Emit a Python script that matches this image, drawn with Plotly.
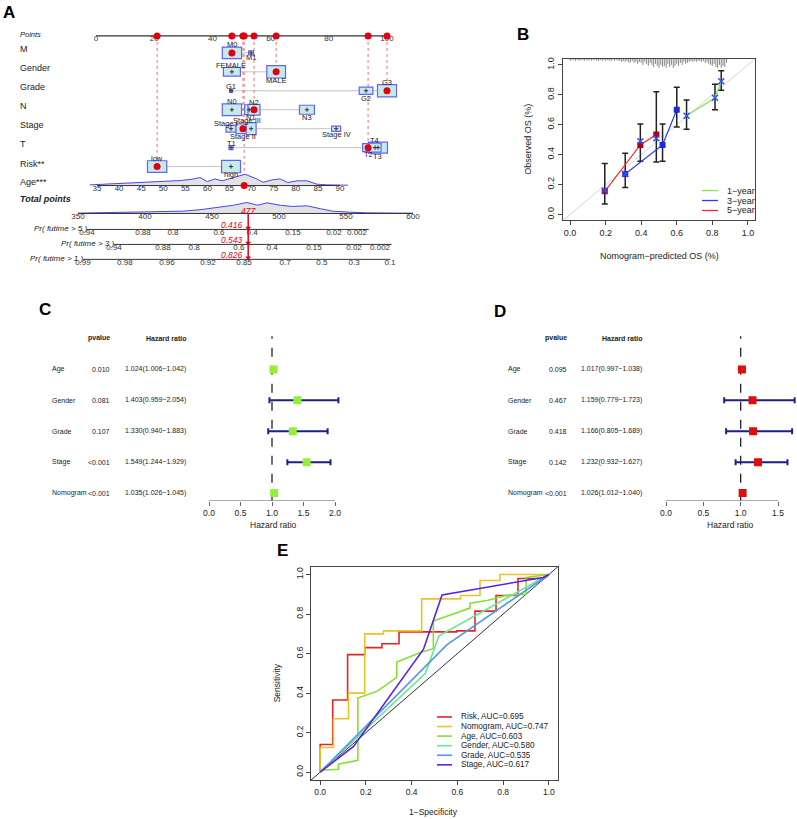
import plotly.graph_objects as go

W, H = 797, 819
FONT = "Liberation Sans, Arial, Helvetica, sans-serif"

# ============================ DATA ============================
# ---- A: nomogram ----
points_ticks = [0, 20, 40, 60, 80, 100]
age_ticks = [35, 40, 45, 50, 55, 60, 65, 70, 75, 80, 85, 90]
total_ticks = [350, 400, 450, 500, 550, 600]

M_levels = ["M0", "M1"]
M_points = [46.7, 53.3]
Gender_levels = ["FEMALE", "MALE"]
Gender_points = [46.7, 61.9]
Grade_levels = ["G1", "G2", "G3"]
Grade_points = [46.4, 92.8, 100.0]
N_levels = ["N0", "N1", "N2", "N3"]
N_points = [46.7, 52.6, 54.3, 72.5]
Stage_levels = ["Stage I", "Stage II", "Stage III", "Stage IV"]
Stage_points = [46.4, 50.5, 53.3, 82.5]
T_levels = ["T1", "T2", "T3", "T4"]
T_points = [46.4, 93.5, 96.9, 95.9]
Risk_levels = ["low", "high"]
Risk_points = [21.0, 46.4]

patient_levels = ["M0", "MALE", "G3", "N2", "Stage II", "T2", "low"]
patient_age = 68.3
patient_total = 477
patient_prob = ["0.416", "0.543", "0.826"]

age_dens_x = [33.4, 37.9, 43.1, 47.0, 50.8, 53.8, 56.5, 58.3, 60.0, 61.7, 63.3, 65.6,
              68.5, 70.8, 72.6, 74.6, 76.4, 78.2, 80.3, 82.5, 84.8, 87.1, 91.8]
age_dens_y = [0.06, 0.15, 0.20, 0.29, 0.35, 0.44, 0.56, 0.71, 0.35, 0.59, 0.42, 0.65,
              1.00, 0.65, 0.29, 0.50, 0.59, 0.27, 0.42, 0.42, 0.12, 0.06, 0.03]
total_dens_x = [350, 366, 391, 411, 428, 441, 453, 466, 476, 484, 491, 501, 510, 521,
                531, 540, 553, 566, 590, 600]
total_dens_y = [0.03, 0.06, 0.09, 0.12, 0.21, 0.34, 0.52, 0.75, 1.00, 0.75, 0.97, 0.75,
                0.64, 0.70, 0.43, 0.21, 0.12, 0.06, 0.03, 0.03]

pr_titles = ["Pr( futime > 5 )", "Pr( futime > 3 )", "Pr( futime > 1 )"]
pr5_labels = ["0.94", "0.88", "0.8", "0.6", "0.4", "0.15", "0.02", "0.002"]
pr5_at = [356.7, 398.5, 420.9, 455.2, 479.9, 510.4, 541.0, 558.2]
pr3_labels = ["0.94", "0.88", "0.8", "0.6", "0.4", "0.15", "0.02", "0.002"]
pr3_at = [376.9, 413.4, 436.6, 470.1, 494.8, 526.1, 556.0, 575.4]
pr1_labels = ["0.99", "0.98", "0.96", "0.92", "0.85", "0.7", "0.5", "0.3", "0.1"]
pr1_at = [353.7, 385.0, 416.4, 447.0, 473.9, 504.5, 532.0, 556.0, 582.8]
pr_line_end = [567, 584, 583]

# ---- B: calibration ----
cal_ticks = [0.0, 0.2, 0.4, 0.6, 0.8, 1.0]
cal1_pred = [0.655, 0.815, 0.85]
cal1_obs = [0.66, 0.78, 0.89]
cal1_lo = [0.57, 0.70, 0.83]
cal1_hi = [0.765, 0.87, 0.96]
cal3_pred = [0.31, 0.52, 0.60]
cal3_obs = [0.27, 0.465, 0.70]
cal3_lo = [0.18, 0.355, 0.585]
cal3_hi = [0.41, 0.605, 0.85]
cal5_pred = [0.195, 0.395, 0.485]
cal5_obs = [0.155, 0.465, 0.535]
cal5_lo = [0.07, 0.355, 0.35]
cal5_hi = [0.34, 0.605, 0.82]
cal_x_pred = [0.195, 0.395, 0.485, 0.31, 0.655, 0.815, 0.85]
cal_x_obs = [0.16, 0.49, 0.51, 0.27, 0.66, 0.78, 0.89]
rug_x = [0.00, 0.01, 0.02, 0.03, 0.04, 0.05, 0.06, 0.07, 0.08, 0.09,
         0.10, 0.11, 0.12, 0.13, 0.14, 0.15, 0.16, 0.17, 0.18, 0.19,
         0.20, 0.21, 0.22, 0.23, 0.24, 0.25, 0.26, 0.27, 0.28, 0.29,
         0.30, 0.31, 0.32, 0.33, 0.34, 0.35, 0.36, 0.37, 0.38, 0.39,
         0.40, 0.41, 0.42, 0.43, 0.44, 0.45, 0.46, 0.47, 0.48, 0.49,
         0.50, 0.51, 0.52, 0.53, 0.54, 0.55, 0.56, 0.57, 0.58, 0.59,
         0.60, 0.61, 0.62, 0.63, 0.64, 0.65, 0.66, 0.67, 0.68, 0.69,
         0.70, 0.71, 0.72, 0.73, 0.74, 0.75, 0.76, 0.77, 0.78, 0.79,
         0.80, 0.81, 0.82, 0.83, 0.84, 0.85, 0.86, 0.87, 0.88]
rug_n = [2, 1, 1, 2, 1, 2, 1, 1, 2, 1,
         2, 1, 2, 1, 1, 2, 2, 1, 2, 1,
         2, 1, 2, 2, 1, 2, 1, 2, 2, 3,
         2, 3, 2, 4, 3, 2, 4, 3, 5, 3,
         4, 6, 3, 5, 7, 4, 6, 8, 5, 7,
         9, 6, 8, 7, 9, 5, 8, 6, 9, 7,
         5, 7, 4, 6, 3, 5, 4, 3, 2, 3,
         2, 3, 2, 2, 3, 2, 4, 3, 5, 6,
         7, 5, 8, 9, 6, 9, 7, 8, 4]
cal_legend = ["1\u2212year", "3\u2212year", "5\u2212year"]

# ---- C / D: forest plots ----
forest_vars = ["Age", "Gender", "Grade", "Stage", "Nomogram"]
uni_p = ["0.010", "0.081", "0.107", "<0.001", "<0.001"]
uni_hr = [1.024, 1.403, 1.330, 1.549, 1.035]
uni_lo = [1.006, 0.959, 0.940, 1.244, 1.026]
uni_hi = [1.042, 2.054, 1.883, 1.929, 1.045]
uni_ticks = [0.0, 0.5, 1.0, 1.5, 2.0]
multi_p = ["0.095", "0.467", "0.418", "0.142", "<0.001"]
multi_hr = [1.017, 1.159, 1.166, 1.232, 1.026]
multi_lo = [0.997, 0.779, 0.805, 0.932, 1.012]
multi_hi = [1.038, 1.723, 1.689, 1.627, 1.040]
multi_ticks = [0.0, 0.5, 1.0, 1.5]

# ---- E: ROC ----
roc_ticks = [0.0, 0.2, 0.4, 0.6, 0.8, 1.0]
roc_names = ["Risk", "Nomogram", "Age", "Gender", "Grade", "Stage"]
roc_auc = [0.695, 0.747, 0.603, 0.580, 0.535, 0.617]
risk_fpr = [0, 0, 0.055, 0.055, 0.12, 0.12, 0.195, 0.195, 0.27, 0.27, 0.345, 0.345,
            0.597, 0.597, 0.677, 0.677, 0.769, 0.769, 0.865, 0.865, 0.98, 1.0]
risk_tpr = [0, 0.14, 0.14, 0.365, 0.365, 0.595, 0.595, 0.63, 0.63, 0.65, 0.65, 0.71,
            0.71, 0.715, 0.715, 0.815, 0.815, 0.894, 0.894, 0.98, 0.98, 1.0]
nomo_fpr = [0, 0, 0.058, 0.058, 0.124, 0.124, 0.195, 0.195, 0.277, 0.277, 0.444, 0.444,
            0.614, 0.614, 0.699, 0.699, 0.786, 0.786, 1.0]
nomo_tpr = [0, 0.125, 0.125, 0.27, 0.27, 0.40, 0.40, 0.70, 0.70, 0.715, 0.715, 0.877,
            0.877, 0.894, 0.894, 0.97, 0.97, 1.0, 1.0]
age_fpr = [0, 0, 0.08, 0.08, 0.165, 0.165, 0.25, 0.335, 0.335, 0.445, 0.495, 0.495,
           0.655, 0.655, 0.735, 0.815, 0.90, 0.90, 1.0]
age_tpr = [0, 0.01, 0.015, 0.04, 0.06, 0.375, 0.41, 0.48, 0.557, 0.608, 0.625, 0.765,
           0.83, 0.855, 0.87, 0.895, 0.90, 0.985, 1.0]
gender_fpr = [0, 0.46, 0.52, 1.0]
gender_tpr = [0, 0.50, 0.69, 1.0]
grade_fpr = [0, 0.555, 1.0]
grade_tpr = [0, 0.645, 1.0]
stage_fpr = [0, 0.146, 0.452, 0.533, 0.975, 1.0]
stage_tpr = [0, 0.13, 0.622, 0.897, 0.985, 1.0]

# ============================ STYLE / LAYOUT CONSTANTS ============================
RED = "#e3000f"
BOX_FILL = "#c6eaea"
BOX_LINE = "#6464f2"
NAVY = "#1e1e8c"
GREEN_SQ = "#93f03a"
RED_SQ = "#e00d0d"
ROC_COLORS = ["#e0262a", "#ecc22a", "#85e033", "#6ee68e", "#4d9be6", "#5a22e6"]


def PX(x):
    return x / W


def PY(y):
    return 1 - y / H


def lin_range(v0, v1, p0, p1, d0, d1):
    s = (v1 - v0) / (p1 - p0)
    return [v0 + (d0 - p0) * s, v0 + (d1 - p0) * s]


fig = go.Figure()
shapes = []
ann = []


def text(x, y, s, size, xref="paper", yref="paper", xanchor="center", yanchor="middle",
         color="#222", angle=0, xshift=0, yshift=0):
    if xref == "paper":
        x = PX(x)
    if yref == "paper":
        y = PY(y)
    ann.append(dict(x=x, y=y, xref=xref, yref=yref, text=s, showarrow=False,
                    xanchor=xanchor, yanchor=yanchor, textangle=angle,
                    xshift=xshift, yshift=yshift,
                    font=dict(size=size, color=color, family=FONT)))


def seg(xref, yref, x0, y0, x1, y1, color, width=1, dash=None, layer="above"):
    ln = dict(color=color, width=width)
    if dash:
        ln["dash"] = dash
    shapes.append(dict(type="line", xref=xref, yref=yref, x0=x0, y0=y0, x1=x1, y1=y1,
                       line=ln, layer=layer))


# ============================ PANEL A ============================
A_RIGHT = 430
PTS_PX = (96.0, 387.0)
AGE_PX = (97.0, 340.0)
TOT_PX = (78.0, 413.0)
PPX = 100.0 / (PTS_PX[1] - PTS_PX[0])
ROW = dict(Points=34, M=51, Gender=70, Grade=89, N=108, Stage=127, T=146, Risk=165,
           Age=184, Total=212, Pr5=228, Pr3=243, Pr1=258)
AGE_DENS_H = 11.3
TOT_DENS_H = 11.0

BOX = {"M0": (19.3, 11.7), "M1": (5, 4),
       "FEMALE": (17, 8.7), "MALE": (18.7, 12.4),
       "G1": (3, 3), "G2": (13.7, 7.3), "G3": (19, 12.3),
       "N0": (19.3, 11.7), "N1": (9, 10), "N2": (12, 10.7), "N3": (15, 9),
       "Stage I": (10, 6.7), "Stage II": (14, 9.7), "Stage III": (10, 12), "Stage IV": (9, 5.3),
       "T1": (4, 4), "T2": (11, 8), "T3": (19, 11), "T4": (12, 9),
       "low": (19.3, 11.7), "high": (19, 12.3)}
LAB = {"M0": (0, -8), "M1": (0, 5),
       "FEMALE": (-1, -6.7), "MALE": (0, 9),
       "G1": (0, -3.8), "G2": (0, 7.5), "G3": (0, -8),
       "N0": (0, -8), "N1": (2, 7.5), "N2": (0, -7.5), "N3": (0, 8),
       "Stage I": (-5, -5.5), "Stage II": (0, 7.5), "Stage III": (-4, -8.5), "Stage IV": (0, 5.5),
       "T1": (0, -4.5), "T2": (0, 6.5), "T3": (0, 9), "T4": (-1, -7),
       "low": (0, -8.3), "high": (0, 7.7)}

cat_rows = [("M", M_levels, M_points), ("Gender", Gender_levels, Gender_points),
            ("Grade", Grade_levels, Grade_points), ("N", N_levels, N_points),
            ("Stage", Stage_levels, Stage_points), ("T", T_levels, T_points),
            ("Risk", Risk_levels, Risk_points)]

# row labels
row_labels = [("Points", "<i>Points</i>", 33, 7.5), ("M", "M", 47, 9), ("Gender", "Gender", 66, 9),
              ("Grade", "Grade", 85, 9), ("N", "N", 104, 9), ("Stage", "Stage", 123, 9),
              ("T", "T", 142, 9), ("Risk", "Risk**", 162, 9), ("Age", "Age***", 180, 9),
              ("Total", "<b><i>Total points</i></b>", 197, 9)]
for _, s, yy, fs in row_labels:
    text(18, yy, s, fs, xanchor="left")

# points axis
fig.add_trace(go.Scatter(x=[points_ticks[0], points_ticks[-1]], y=[ROW["Points"]] * 2,
                         xaxis="x", yaxis="y", mode="lines",
                         line=dict(color="#333", width=1.2), hoverinfo="skip"))
fig.add_trace(go.Scatter(x=points_ticks, y=[ROW["Points"] + 3.3] * len(points_ticks),
                         xaxis="x", yaxis="y", mode="text", text=[str(v) for v in points_ticks],
                         textfont=dict(size=8, color="#333", family=FONT), hoverinfo="skip"))

# connecting lines, guides, boxes
for name, levs, pts in cat_rows:
    seg("x", "y", min(pts), ROW[name], max(pts), ROW[name], "#c4c4c4", 1, layer="below")
sel_x, sel_y = [], []
for name, levs, pts in cat_rows:
    for lv, p in zip(levs, pts):
        if lv in patient_levels:
            seg("x", "y", p, ROW["Points"], p, ROW[name], "#f07070", 1, dash="dot", layer="below")
            sel_x.append(p)
            sel_y.append(ROW[name])
seg("x2", "y", patient_age, ROW["Points"], patient_age, ROW["Age"], "#f07070", 1,
    dash="dot", layer="below")
for name, levs, pts in cat_rows:
    for lv, p in zip(levs, pts):
        w, h = BOX[lv]
        shapes.append(dict(type="rect", xref="x", yref="y", x0=p - w / 2 * PPX,
                           x1=p + w / 2 * PPX, y0=ROW[name] - h / 2, y1=ROW[name] + h / 2,
                           fillcolor=BOX_FILL, line=dict(color=BOX_LINE, width=1.2),
                           layer="below"))
        dx, dy = LAB[lv]
        text(p + dx * PPX, ROW[name] + dy, lv, 7.5, xref="x", yref="y", color="#222")

cx, cy = [], []
for name, levs, pts in cat_rows:
    for p in pts:
        cx.append(p)
        cy.append(ROW[name])
fig.add_trace(go.Scatter(x=cx, y=cy, xaxis="x", yaxis="y", mode="markers",
                         marker=dict(symbol="cross-thin-open", size=3, color="#333",
                                     line=dict(width=1, color="#333")), hoverinfo="skip"))

# age axis + density
n = len(age_dens_x)
fig.add_trace(go.Scatter(x=age_dens_x + age_dens_x[::-1],
                         y=[ROW["Age"] - d * AGE_DENS_H for d in age_dens_y] + [ROW["Age"]] * n,
                         xaxis="x2", yaxis="y", mode="lines", fill="toself",
                         fillcolor="#e2e2e2", line=dict(width=0), hoverinfo="skip"))
fig.add_trace(go.Scatter(x=age_dens_x, y=[ROW["Age"] - d * AGE_DENS_H for d in age_dens_y],
                         xaxis="x2", yaxis="y", mode="lines", line=dict(color="#4646f0", width=1),
                         hoverinfo="skip"))
fig.add_trace(go.Scatter(x=[age_ticks[0], age_ticks[-1]], y=[ROW["Age"]] * 2, xaxis="x2",
                         yaxis="y", mode="lines", line=dict(color="#333", width=1),
                         hoverinfo="skip"))
fig.add_trace(go.Scatter(x=age_ticks, y=[ROW["Age"] + 3.3] * len(age_ticks), xaxis="x2",
                         yaxis="y", mode="text", text=[str(v) for v in age_ticks],
                         textfont=dict(size=8, color="#333", family=FONT), hoverinfo="skip"))

# total points axis + density
n = len(total_dens_x)
fig.add_trace(go.Scatter(x=total_dens_x + total_dens_x[::-1],
                         y=[ROW["Total"] - d * TOT_DENS_H for d in total_dens_y] + [ROW["Total"]] * n,
                         xaxis="x3", yaxis="y", mode="lines", fill="toself",
                         fillcolor="#e2e2e2", line=dict(width=0), hoverinfo="skip"))
fig.add_trace(go.Scatter(x=total_dens_x, y=[ROW["Total"] - d * TOT_DENS_H for d in total_dens_y],
                         xaxis="x3", yaxis="y", mode="lines", line=dict(color="#4646f0", width=1),
                         hoverinfo="skip"))
fig.add_trace(go.Scatter(x=[total_ticks[0], total_ticks[-1]], y=[ROW["Total"]] * 2, xaxis="x3",
                         yaxis="y", mode="lines", line=dict(color="#333", width=1),
                         hoverinfo="skip"))
fig.add_trace(go.Scatter(x=total_ticks, y=[ROW["Total"] + 4] * len(total_ticks), xaxis="x3",
                         yaxis="y", mode="text", text=[str(v) for v in total_ticks],
                         textfont=dict(size=8, color="#333", family=FONT), hoverinfo="skip"))

# probability axes
pr_rows = [("Pr5", pr5_labels, pr5_at), ("Pr3", pr3_labels, pr3_at), ("Pr1", pr1_labels, pr1_at)]
for i, (rk, labs, at) in enumerate(pr_rows):
    fig.add_trace(go.Scatter(x=[at[0], pr_line_end[i]], y=[ROW[rk]] * 2, xaxis="x3", yaxis="y",
                             mode="lines", line=dict(color="#333", width=1), hoverinfo="skip"))
    fig.add_trace(go.Scatter(x=at, y=[ROW[rk] + 3.5] * len(at), xaxis="x3", yaxis="y",
                             mode="text", text=labs,
                             textfont=dict(size=8, color="#333", family=FONT), hoverinfo="skip"))
    text(at[0], ROW[rk] - 1, "<i>" + pr_titles[i] + "</i>", 8, xref="x3", yref="y",
         xanchor="right", xshift=2)
    text(patient_total, ROW[rk] - 4, "<i>" + patient_prob[i] + "</i>", 8.5, xref="x3", yref="y",
         xanchor="right", xshift=-3, color=RED)

# red patient line
fig.add_trace(go.Scatter(x=[patient_total, patient_total], y=[ROW["Total"], ROW["Pr1"] - 1.5],
                         xaxis="x3", yaxis="y", mode="lines", line=dict(color=RED, width=1.5),
                         hoverinfo="skip"))
fig.add_trace(go.Scatter(x=[patient_total] * 3, y=[ROW["Pr5"] - 1.5, ROW["Pr3"] - 1.5, ROW["Pr1"] - 1.5],
                         xaxis="x3", yaxis="y", mode="markers",
                         marker=dict(symbol="triangle-down", size=5, color=RED), hoverinfo="skip"))
text(patient_total, ROW["Total"] - 2.5, "<i>%d</i>" % patient_total, 8.5, xref="x3", yref="y",
     color=RED)

# red dots
fig.add_trace(go.Scatter(x=sel_x + sel_x, y=sel_y + [ROW["Points"]] * len(sel_x), xaxis="x",
                         yaxis="y", mode="markers", marker=dict(size=7, color=RED),
                         hoverinfo="skip"))
fig.add_trace(go.Scatter(x=[patient_age, patient_age], y=[ROW["Points"], ROW["Age"]], xaxis="x2",
                         yaxis="y", mode="markers", marker=dict(size=7, color=RED),
                         hoverinfo="skip"))

# ============================ PANEL B ============================
fig.add_trace(go.Scatter(x=[-0.04, 1.04], y=[-0.04, 1.04], xaxis="x4", yaxis="y4", mode="lines",
                         line=dict(color="#d4d4d4", width=1), hoverinfo="skip"))
RUG_TOP = 1.04
RUG_SCALE = 1.0 / 149
rx, ry = [], []
for xv, nv in zip(rug_x, rug_n):
    rx += [xv, xv, None]
    ry += [RUG_TOP, RUG_TOP - nv * RUG_SCALE, None]
fig.add_trace(go.Scatter(x=rx, y=ry, xaxis="x4", yaxis="y4", mode="lines",
                         line=dict(color="#6a6a6a", width=0.8), hoverinfo="skip"))
cal_series = [(cal1_pred, cal1_obs, cal1_lo, cal1_hi, "#7fe84a", "#7fe84a"),
              (cal3_pred, cal3_obs, cal3_lo, cal3_hi, "#2a3cf0", "#1a2ae0"),
              (cal5_pred, cal5_obs, cal5_lo, cal5_hi, "#f03030", "#b00010")]
for pr, ob, lo, hi, lc, mc in cal_series:
    fig.add_trace(go.Scatter(x=pr, y=ob, xaxis="x4", yaxis="y4", mode="markers",
                             marker=dict(size=1, color="rgba(0,0,0,0)"),
                             error_y=dict(type="data", symmetric=False,
                                          array=[h - o for h, o in zip(hi, ob)],
                                          arrayminus=[o - l for o, l in zip(ob, lo)],
                                          color="#222", thickness=1.5, width=3),
                             hoverinfo="skip"))
for k, (pr, ob, lo, hi, lc, mc) in enumerate(cal_series):
    fig.add_trace(go.Scatter(x=pr, y=ob, xaxis="x4", yaxis="y4", mode="lines+markers",
                             line=dict(color=lc, width=1.2),
                             marker=dict(size=6 if k else 1, color=mc, symbol="square"),
                             hoverinfo="skip"))
fig.add_trace(go.Scatter(x=cal_x_pred, y=cal_x_obs, xaxis="x4", yaxis="y4", mode="markers",
                         marker=dict(symbol="x-thin-open", size=6, color="#3050ff",
                                     line=dict(width=1.5, color="#3050ff")), hoverinfo="skip"))
# legend B
leg_cols = ["#7fe84a", "#2a3cf0", "#f03030"]
for i, lab in enumerate(cal_legend):
    yy = 189 + 10 * i
    seg("paper", "paper", PX(702), PY(yy), PX(718), PY(yy), leg_cols[i], 1.3)
    text(725, yy, lab, 9, xanchor="left")
text(659, 255, "Nomogram\u2212predicted OS (%)", 9)
text(528, 138, "Observed OS (%)", 9, angle=-90)

# ============================ PANELS C / D ============================
def r_of(ypx):
    return 1 + (492.3 - ypx) / 31.0


def forest(xa, ya, hr, lo, hi, pv, color, name_x, p_x, hr_x, ticks, title_x):
    rows = [5 - i for i in range(len(forest_vars))]
    fig.add_trace(go.Scatter(x=hr, y=rows, xaxis=xa, yaxis=ya, mode="markers",
                             marker=dict(symbol="square", size=8, color=color),
                             error_x=dict(type="data", symmetric=False,
                                          array=[h - v for h, v in zip(hi, hr)],
                                          arrayminus=[v - l for v, l in zip(hr, lo)],
                                          color=NAVY, thickness=2, width=3),
                             hoverinfo="skip"))
    seg(xa, ya, 1, r_of(500), 1, r_of(335), "#222", 1.3, dash="dash", layer="below")
    seg(xa, ya, ticks[0], r_of(500), ticks[-1], r_of(500), "#666", 1)
    text(p_x, 6, "<b>pvalue</b>", 7, yref=ya, xanchor="right")
    text(hr_x, 6, "<b>Hazard ratio</b>", 7, yref=ya, xanchor="right")
    for i, v in enumerate(forest_vars):
        text(name_x, rows[i], v, 7, yref=ya, xanchor="left")
        text(p_x, rows[i], pv[i], 7, yref=ya, xanchor="right")
        text(hr_x, rows[i], "%.3f(%.3f\u2212%.3f)" % (hr[i], lo[i], hi[i]), 7, yref=ya,
             xanchor="right")
    text(title_x, 524, "Hazard ratio", 8.5)


forest("x5", "y5", uni_hr, uni_lo, uni_hi, uni_p, GREEN_SQ, 50, 112, 188, uni_ticks, 273)
forest("x6", "y6", multi_hr, multi_lo, multi_hi, multi_p, RED_SQ, 506, 568.5, 644, multi_ticks, 730)

# ============================ PANEL E ============================
fig.add_trace(go.Scatter(x=[-0.04, 1.04], y=[-0.04, 1.04], xaxis="x7", yaxis="y7", mode="lines",
                         line=dict(color="#333", width=1), hoverinfo="skip"))
roc_data = [(risk_fpr, risk_tpr), (nomo_fpr, nomo_tpr), (age_fpr, age_tpr),
            (gender_fpr, gender_tpr), (grade_fpr, grade_tpr), (stage_fpr, stage_tpr)]
for (fx, ty), col in zip(roc_data, ROC_COLORS):
    fig.add_trace(go.Scatter(x=fx, y=ty, xaxis="x7", yaxis="y7", mode="lines",
                             line=dict(color=col, width=1.6), hoverinfo="skip"))
for i, (nm, auc) in enumerate(zip(roc_names, roc_auc)):
    yy = 716.7 + 9.6 * i
    seg("paper", "paper", PX(437), PY(yy), PX(452), PY(yy), ROC_COLORS[i], 1.6)
    text(459, yy, "%s, AUC=%.3f" % (nm, auc), 8.2, xanchor="left")
text(433, 812, "1\u2212Specificity", 8.5)
text(277, 683, "Sensitivity", 8.5, angle=-90)

# panel letters
for L, (xx, yy) in zip("ABCDE", [(9, 11), (523, 33), (45, 308), (500, 310), (282, 550)]):
    text(xx, yy, "<b>%s</b>" % L, 17, color="#000")

# ============================ AXES ============================
hidden = dict(visible=False, showgrid=False, zeroline=False, fixedrange=True)


def box_axis(dom, rng, anchor, ticks, angle=0, size=9):
    return dict(domain=dom, range=rng, anchor=anchor, showline=True, mirror=True,
                linecolor="#444", linewidth=1, ticks="outside", ticklen=4, tickcolor="#444",
                tickvals=ticks, ticktext=["%.1f" % v for v in ticks], tickangle=angle,
                tickfont=dict(size=size, color="#222", family=FONT), showgrid=False,
                zeroline=False)


def forest_x(dom_px, v_px, ticks, anchor):
    return dict(domain=[PX(dom_px[0]), PX(dom_px[1])],
                range=lin_range(0, ticks[-1], v_px[0], v_px[1], dom_px[0], dom_px[1]),
                anchor=anchor, showline=False, showgrid=False, zeroline=False,
                ticks="outside", ticklen=4, tickcolor="#666", tickvals=ticks,
                ticktext=["%.1f" % v for v in ticks],
                tickfont=dict(size=8.5, color="#222", family=FONT))


forest_y = dict(domain=[PY(500), PY(330)], range=[r_of(500), r_of(330)], showgrid=False,
                zeroline=False, visible=False)

fig.update_layout(
    width=W, height=H, margin=dict(l=0, r=0, t=0, b=0), autosize=False,
    paper_bgcolor="white", plot_bgcolor="rgba(0,0,0,0)", showlegend=False,
    font=dict(family=FONT, color="#222"),
    xaxis=dict(domain=[0, PX(A_RIGHT)], range=lin_range(0, 100, PTS_PX[0], PTS_PX[1], 0, A_RIGHT),
               anchor="y", **hidden),
    xaxis2=dict(overlaying="x", range=lin_range(35, 90, AGE_PX[0], AGE_PX[1], 0, A_RIGHT),
                anchor="y", **hidden),
    xaxis3=dict(overlaying="x", range=lin_range(350, 600, TOT_PX[0], TOT_PX[1], 0, A_RIGHT),
                anchor="y", **hidden),
    yaxis=dict(domain=[PY(280), 1], range=[280, 0], anchor="x", **hidden),
    xaxis4=box_axis([PX(563), PX(755)], [-0.04, 1.04], "y4", cal_ticks),
    yaxis4=box_axis([PY(219), PY(57)], [-0.04, 1.04], "x4", cal_ticks, angle=-90),
    xaxis5=forest_x((190, 352), (209, 335), uni_ticks, "y5"),
    yaxis5=dict(anchor="x5", **forest_y),
    xaxis6=forest_x((655, 797), (666, 778), multi_ticks, "y6"),
    yaxis6=dict(anchor="x6", **forest_y),
    xaxis7=box_axis([PX(311), PX(558)], [-0.04, 1.04], "y7", roc_ticks, size=8.5),
    yaxis7=box_axis([PY(780), PY(566)], [-0.04, 1.04], "x7", roc_ticks, angle=-90, size=8.5),
    shapes=shapes, annotations=ann,
)

fig.write_html("out.html", config={"displayModeBar": False},
               post_script="document.body.style.margin='0';document.body.style.overflow='hidden';")
